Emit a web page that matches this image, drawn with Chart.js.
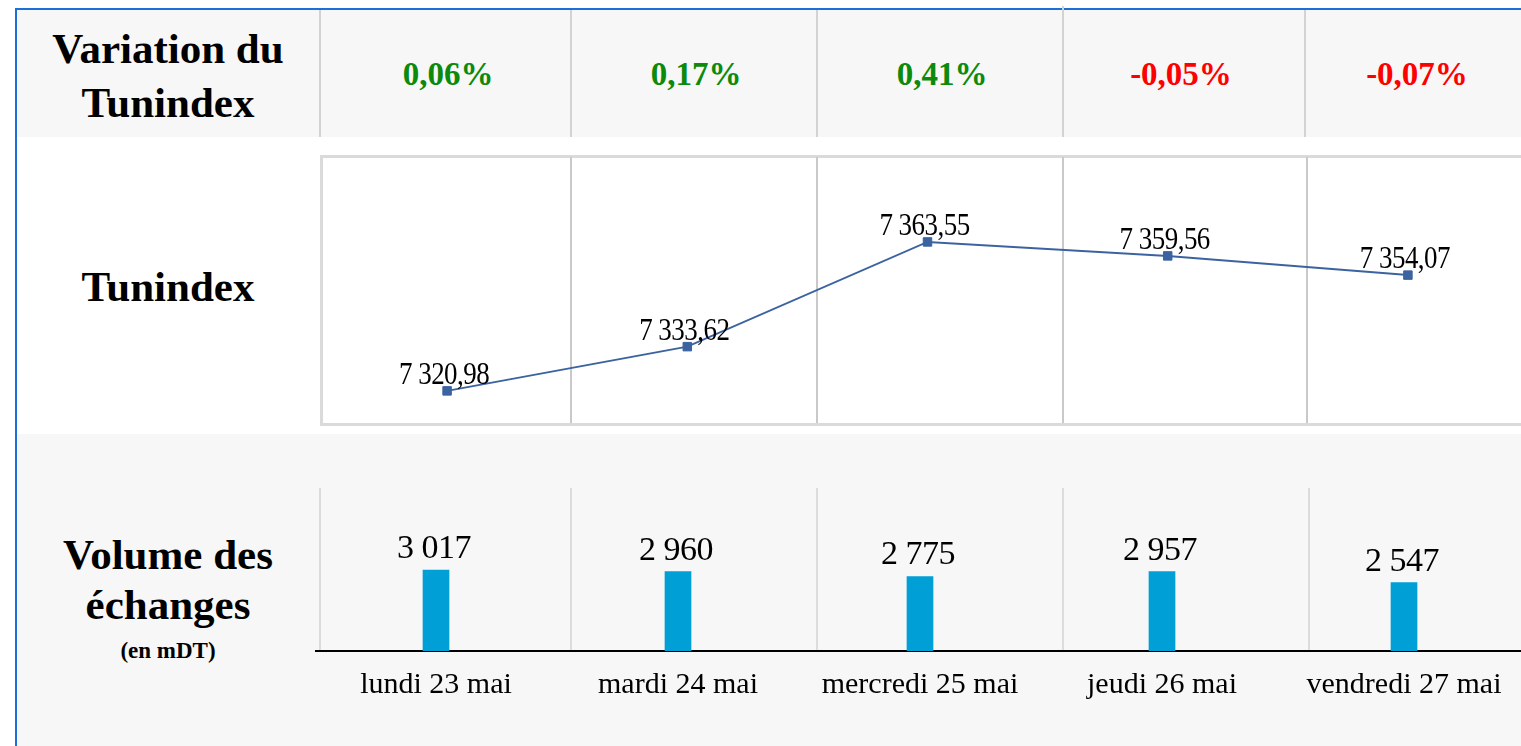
<!DOCTYPE html>
<html>
<head>
<meta charset="utf-8">
<script src="https://cdn.jsdelivr.net/npm/chart.js@4/dist/chart.umd.min.js"></script>
<style>
  html, body { margin:0; padding:0; }
  body { width:1521px; height:746px; overflow:hidden; background:#ffffff; position:relative;
         font-family:"Liberation Serif","Times New Roman",serif; }
  .abs { position:absolute; }
  .row1 { left:17px; top:10px; width:1510px; height:127px; background:#f7f7f7; }
  .row3 { left:17px; top:434px; width:1510px; height:320px; background:#f7f7f7; }
  .frameL { left:15px; top:8px; width:2px; height:740px; background:#1d6fd8; }
  .frameT { left:15px; top:8px; width:1510px; height:2px; background:#1d6fd8; }
  .sep { width:2px; background:#d3d3d3; }
  .box { left:320px; top:155px; width:1220px; height:265px; border:3px solid #dadada; box-sizing:content-box; }
  .vline { width:2px; background:#c9c9c9; }
  .gline { width:2px; background:#dcdcdc; }
  .rowlabel { left:18px; width:300px; text-align:center; font-weight:bold; color:#000; }
  .pct { width:240px; text-align:center; font-weight:bold; font-size:33px; line-height:40px; top:54px; }
  canvas { position:absolute; }
</style>
</head>
<body>
<div class="abs row1"></div>
<div class="abs row3"></div>
<div class="abs frameL"></div>
<div class="abs frameT"></div>

<!-- top row separators -->
<div class="abs sep" style="left:319px; top:10px; height:127px;"></div>
<div class="abs sep" style="left:570px; top:10px; height:127px;"></div>
<div class="abs sep" style="left:816px; top:10px; height:127px;"></div>
<div class="abs sep" style="left:1062px; top:6px; height:131px;"></div>
<div class="abs sep" style="left:1304px; top:10px; height:127px;"></div>

<!-- middle box -->
<div class="abs box"></div>
<div class="abs vline" style="left:570px; top:157px; height:266px;"></div>
<div class="abs vline" style="left:816px; top:157px; height:266px;"></div>
<div class="abs vline" style="left:1062px; top:157px; height:266px;"></div>
<div class="abs vline" style="left:1306px; top:157px; height:266px;"></div>

<!-- bottom grid -->
<div class="abs gline" style="left:319px; top:488px; height:163px;"></div>
<div class="abs gline" style="left:570px; top:488px; height:163px;"></div>
<div class="abs gline" style="left:816px; top:488px; height:163px;"></div>
<div class="abs gline" style="left:1062px; top:488px; height:163px;"></div>
<div class="abs gline" style="left:1308px; top:488px; height:163px;"></div>

<!-- row labels -->
<div class="abs rowlabel" style="top:22px; font-size:43px; line-height:54px;">Variation du<br>Tunindex</div>
<div class="abs rowlabel" style="top:260px; font-size:43px; line-height:54px;">Tunindex</div>
<div class="abs rowlabel" style="top:530px; font-size:43px; line-height:50px;">Volume des<br>échanges</div>
<div class="abs rowlabel" style="top:637px; font-size:23px; line-height:28px;">(en mDT)</div>

<div id="pcts"></div>

<canvas id="lineChart" width="1201" height="268" style="left:327px; top:155px;"></canvas>
<canvas id="barChart" width="1210" height="258" style="left:315px; top:488px;"></canvas>

<script>
// ---- data ----
const categories = ['lundi 23 mai', 'mardi 24 mai', 'mercredi 25 mai', 'jeudi 26 mai', 'vendredi 27 mai'];
const variations = [0.06, 0.17, 0.41, -0.05, -0.07];
const tunindex = [7320.98, 7333.62, 7363.55, 7359.56, 7354.07];
const volumes = [3017, 2960, 2775, 2957, 2547];

// ---- helpers ----
function frNumber(v, dec) {
  const s = Math.abs(v).toFixed(dec);
  let [ip, dp] = s.split('.');
  ip = ip.replace(/\B(?=(\d{3})+(?!\d))/g, ' ');
  return (v < 0 ? '-' : '') + ip + (dp ? ',' + dp : '');
}

// percentage row (column centres of the table)
const pctCenters = [448, 696, 942, 1181, 1417];
const pctHost = document.getElementById('pcts');
variations.forEach((v, i) => {
  const d = document.createElement('div');
  d.className = 'abs pct';
  d.style.left = (pctCenters[i] - 120) + 'px';
  d.style.color = v >= 0 ? '#0b8a0b' : '#ff0000';
  d.textContent = frNumber(v, 2) + '%';
  pctHost.appendChild(d);
});

Chart.defaults.font.family = '"Liberation Serif","Times New Roman",serif';

// value label plugin
const valueLabels = {
  id: 'valueLabels',
  afterDatasetsDraw(chart, args, opts) {
    const ctx = chart.ctx;
    const meta = chart.getDatasetMeta(0);
    const data = chart.data.datasets[0].data;
    meta.data.forEach((el, i) => {
      ctx.save();
      ctx.fillStyle = '#000';
      ctx.textAlign = 'center';
      ctx.textBaseline = 'alphabetic';
      ctx.font = opts.font;
      if ('letterSpacing' in ctx) ctx.letterSpacing = opts.spacing || '0px';
      ctx.translate(el.x + opts.dx, el.y - opts.gap);
      ctx.scale(opts.sx || 1, 1);
      ctx.fillText(frNumber(data[i], opts.dec), 0, 0);
      ctx.restore();
    });
  }
};

new Chart(document.getElementById('lineChart'), {
  type: 'line',
  data: {
    labels: categories,
    datasets: [{
      data: tunindex,
      borderColor: '#3b63a0',
      borderWidth: 2,
      pointStyle: 'rect',
      pointRadius: 6,
      pointBackgroundColor: '#3b63a0',
      pointBorderColor: '#3b63a0',
      pointBorderWidth: 1,
      tension: 0
    }]
  },
  options: {
    responsive: false,
    animation: false,
    layout: { padding: 0, autoPadding: false },
    plugins: {
      legend: { display: false },
      tooltip: { enabled: false },
      valueLabels: { font: '31px "Liberation Serif"', spacing: '-0.6px', sx: 0.87, dec: 2, dx: -3, gap: 7 }
    },
    scales: {
      x: { display: false, offset: true },
      y: { display: false, min: 7311.8, max: 7388.4 }
    }
  },
  plugins: [valueLabels]
});

new Chart(document.getElementById('barChart'), {
  type: 'bar',
  data: {
    labels: categories,
    datasets: [{
      data: volumes,
      backgroundColor: '#009fd6',
      barThickness: 26
    }]
  },
  options: {
    responsive: false,
    animation: false,
    layout: { padding: 0, autoPadding: false },
    plugins: {
      legend: { display: false },
      tooltip: { enabled: false },
      valueLabels: { font: '34px "Liberation Serif"', spacing: '-0.5px', sx: 1, dec: 0, dx: -2, gap: 12 }
    },
    scales: {
      x: {
        offset: true,
        grid: { display: false, drawTicks: false },
        border: { display: true, color: '#000', width: 2 },
        ticks: { color: '#000', font: { size: 30 }, padding: 16, maxRotation: 0, autoSkip: false },
        afterFit(scale) { scale.height = 95; }
      },
      y: { display: false, min: 0, max: 6070 }
    }
  },
  plugins: [valueLabels]
});
</script>
</body>
</html>
